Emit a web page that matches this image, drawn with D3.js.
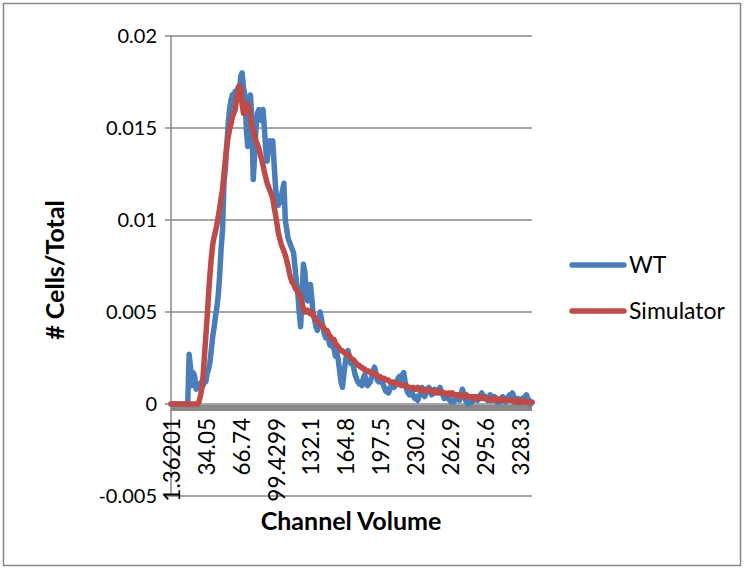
<!DOCTYPE html>
<html>
<head>
<meta charset="utf-8">
<script src="https://cdn.jsdelivr.net/npm/d3@7"></script>
<style>
  body { margin: 0; background: #fff; }
  svg text { font-family: Lato, "Open Sans", sans-serif; fill: #000; }
  .tickLabel { font-size: 20px; }
  .catLabel { font-size: 22.5px; }
  .axisTitle { font-size: 25px; font-weight: bold; }
  .legendLabel { font-size: 23px; }
</style>
</head>
<body>
<div id="chart"></div>
<script>
// category labels shown on the x axis (every 25th category)
var tickLabels = ["1.36201", "34.05", "66.74", "99.4299", "132.1", "164.8", "197.5", "230.2", "262.9", "295.6", "328.3"];
var labelEvery = 25;
var yTicks = [-0.005, 0, 0.005, 0.01, 0.015, 0.02];
var yTickText = ["-0.005", "0", "0.005", "0.01", "0.015", "0.02"];

var seriesNames = ["WT", "Simulator"];
var seriesColors = ["#4A7EBB", "#BE4B48"];

var wt = [
  0, 0, 0, 0, 0, 0, 0, 0, 0, 0, 0, 0, 0,
  0.0027, 0.0020, 0.0010, 0.0017, 0.0015, 0.0008, 0.0011, 0.0009, 0.0010, 0.0012, 0.0010, 0.0013,
  0.0012, 0.0017, 0.0019, 0.0023, 0.0030, 0.0037, 0.0042, 0.0048, 0.0053, 0.0060, 0.0071, 0.0085,
  0.0095, 0.0120, 0.0128, 0.0140, 0.0152, 0.0160, 0.0165, 0.0168, 0.0162, 0.0170, 0.0165, 0.0172,
  0.0168, 0.0178, 0.0180, 0.0172, 0.0168, 0.0150, 0.0140, 0.0158, 0.0168, 0.0155, 0.0122, 0.0135,
  0.0150, 0.0158, 0.0160, 0.0157, 0.0154, 0.0160, 0.0150, 0.0138, 0.0132, 0.0140, 0.0143, 0.0141,
  0.0143, 0.0130, 0.0118, 0.0110, 0.0108, 0.0110, 0.0112, 0.0116, 0.0120, 0.0100, 0.0095, 0.0090,
  0.0088, 0.0086, 0.0084, 0.0082, 0.0074, 0.0066, 0.0060, 0.0050, 0.0042, 0.0058, 0.0076, 0.0072,
  0.0062, 0.0056, 0.0060, 0.0065, 0.0058, 0.0048, 0.0046, 0.0042, 0.0040, 0.0046, 0.0050, 0.0046,
  0.0042, 0.0038, 0.0036, 0.0038, 0.0035, 0.0032, 0.0034, 0.0031, 0.0030, 0.0026, 0.0028, 0.0024,
  0.0018, 0.0012, 0.0009, 0.0016, 0.0022, 0.0028, 0.0029, 0.0026, 0.0022, 0.0024, 0.0020, 0.0016,
  0.0014, 0.0012, 0.0011, 0.0012, 0.0010, 0.0014, 0.0016, 0.0012, 0.0010, 0.0011, 0.0012, 0.0015,
  0.0018, 0.0020, 0.0017, 0.0013, 0.0012, 0.0014, 0.0013, 0.0011, 0.0009, 0.0007, 0.0008, 0.0006,
  0.0008, 0.0010, 0.0011, 0.0009, 0.0010, 0.0012, 0.0014, 0.0015, 0.0013, 0.0016, 0.0017, 0.0012,
  0.0008, 0.0006, 0.0005, 0.0008, 0.0006, 0.0004, 0.0003, 0.0004, 0.0002, 0.0004, 0.0006, 0.0009,
  0.0007, 0.0004, 0.0006, 0.0008, 0.0009, 0.0007, 0.0005, 0.0006, 0.0008, 0.0007, 0.0006, 0.0008,
  0.0009, 0.0007, 0.0005, 0.0003, 0.0004, 0.0005, 0.0003, 0.0002, 0.0001, 0.0002, 0.0001, 0.0003,
  0.0004, 0.0003, 0.0002, 0.0005, 0.0008, 0.0006, 0.0003, 0.0001, 0.0000, 0.0002, 0.0003, 0.0001,
  0.0002, 0.0004, 0.0003, 0.0002, 0.0004, 0.0005, 0.0006, 0.0004, 0.0003, 0.0004, 0.0002, 0.0003,
  0.0005, 0.0003, 0.0002, 0.0004, 0.0003, 0.0001, 0.0002, 0.0001, 0.0003, 0.0004, 0.0003, 0.0001,
  0.0002, 0.0004, 0.0005, 0.0004, 0.0006, 0.0004, 0.0002, 0.0001, 0.0003, 0.0001, 0.0002, 0.0003,
  0.0002, 0.0004, 0.0005, 0.0003, 0.0002, 0.0000, 0.0001
];

var simulator = [
  0, 0, 0, 0, 0, 0, 0, 0, 0, 0, 0, 0, 0, 0, 0, 0, 0, 0, 0, 0,
  0.0001, 0.0004, 0.0008, 0.0015, 0.0026, 0.0037, 0.0048, 0.0060, 0.0071, 0.0080, 0.0087, 0.0091,
  0.0094, 0.0098, 0.0102, 0.0107, 0.0112, 0.0117, 0.0125, 0.0133, 0.0140, 0.0145, 0.0149, 0.0152,
  0.0156, 0.0158, 0.0160, 0.0165, 0.0169, 0.0173, 0.0172, 0.0163, 0.0158, 0.0160, 0.0163, 0.0163,
  0.0160, 0.0156, 0.0151, 0.0148, 0.0145, 0.0143, 0.0141, 0.0139, 0.0136, 0.0133, 0.0130, 0.0126,
  0.0123, 0.0120, 0.0118, 0.0116, 0.0114, 0.0112, 0.0107, 0.0103, 0.0098, 0.0093, 0.0090, 0.0087,
  0.0085, 0.0083, 0.0081, 0.0078, 0.0075, 0.0071, 0.0068, 0.0066, 0.0065, 0.0063, 0.0062, 0.0061,
  0.0060, 0.0058, 0.0055, 0.0052, 0.0050, 0.0050, 0.0051, 0.0050, 0.0049, 0.0050, 0.0049, 0.0047,
  0.0046, 0.0045, 0.0044, 0.0043, 0.0043, 0.0042, 0.0041, 0.0040, 0.0040, 0.0038, 0.0037, 0.0036,
  0.0035, 0.0035, 0.0033, 0.0032, 0.0031, 0.0030, 0.0029, 0.0029, 0.0028, 0.0028, 0.0027, 0.0027,
  0.0026, 0.0025, 0.0024, 0.0024, 0.0023, 0.0022, 0.0021, 0.0021, 0.0020, 0.0020, 0.0019, 0.0019,
  0.0018, 0.0018, 0.0018, 0.0017, 0.0017, 0.0017, 0.0016, 0.0016, 0.0015, 0.0015, 0.0015, 0.0014,
  0.0014, 0.0014, 0.0013, 0.0013, 0.0013, 0.0012, 0.0012, 0.0012, 0.0012, 0.0011, 0.0011, 0.0011,
  0.0011, 0.0010, 0.0010, 0.0010, 0.0010, 0.0010, 0.0009, 0.0009, 0.0009, 0.0009, 0.0009,
  0.0008, 0.0008, 0.0009, 0.0008, 0.0008, 0.0007, 0.0008, 0.0008, 0.0007, 0.0007,
  0.0007, 0.0008, 0.0007, 0.0007, 0.0006, 0.0007, 0.0007, 0.0006, 0.0006, 0.0007,
  0.0006, 0.0006, 0.0006, 0.0005, 0.0006, 0.0006, 0.0005, 0.0006, 0.0005, 0.0005,
  0.0005, 0.0005, 0.0004, 0.0005, 0.0005, 0.0004, 0.0004, 0.0005, 0.0004, 0.0004,
  0.0004, 0.0004, 0.0003, 0.0004, 0.0004, 0.0003, 0.0004, 0.0003, 0.0003, 0.0004,
  0.0003, 0.0003, 0.0003, 0.0003, 0.0002, 0.0003, 0.0003, 0.0003, 0.0002, 0.0003,
  0.0002, 0.0002, 0.0003, 0.0002, 0.0002, 0.0002, 0.0002, 0.0002, 0.0002, 0.0002,
  0.0002, 0.0001, 0.0002, 0.0002, 0.0001, 0.0002, 0.0001, 0.0001, 0.0002, 0.0001,
  0.0001, 0.0001, 0.0001, 0.0001, 0.0001
];

var width = 744, height = 569;
var plotLeft = 171, plotRight = 532, plotTop = 36, plotBottom = 496;
var nCats = wt.length;

var svg = d3.select("#chart").append("svg")
  .attr("width", width)
  .attr("height", height);

// outer chart border
svg.append("rect")
  .attr("x", 3.5).attr("y", 3.5)
  .attr("width", 737).attr("height", 562)
  .attr("fill", "#fff")
  .attr("stroke", "#888")
  .attr("stroke-width", 1.5);

var x = d3.scaleLinear()
  .domain([0, nCats - 1])
  .range([plotLeft, plotRight]);

var y = d3.scaleLinear()
  .domain([-0.005, 0.02])
  .range([plotBottom, plotTop]);

// gridlines
svg.append("g")
  .selectAll("line")
  .data(yTicks)
  .enter()
  .append("line")
    .attr("x1", plotLeft - 6)
    .attr("x2", plotRight)
    .attr("y1", d => y(d))
    .attr("y2", d => y(d))
    .attr("stroke", "#888")
    .attr("stroke-width", 1.5);

// y axis line
svg.append("line")
  .attr("x1", plotLeft).attr("x2", plotLeft)
  .attr("y1", plotTop).attr("y2", plotBottom)
  .attr("stroke", "#888")
  .attr("stroke-width", 1.5);

svg.append("g")
  .selectAll("text")
  .data(yTicks)
  .enter()
  .append("text")
    .attr("class", "tickLabel")
    .attr("x", plotLeft - 14)
    .attr("y", d => y(d))
    .attr("dy", "0.36em")
    .attr("text-anchor", "end")
    .text((d, i) => yTickText[i]);

// category axis drawn as a heavy band at zero
svg.append("line")
  .attr("x1", plotLeft).attr("x2", plotRight)
  .attr("y1", y(0) + 4).attr("y2", y(0) + 4)
  .attr("stroke", "#888")
  .attr("stroke-width", 6);

svg.append("g")
  .selectAll("text")
  .data(tickLabels)
  .enter()
  .append("text")
    .attr("class", "catLabel")
    .attr("transform", (d, i) => `translate(${x(i * labelEvery) + 1}, ${y(0) + 14}) rotate(-90)`)
    .attr("dy", "0.36em")
    .attr("text-anchor", "end")
    .text(d => d);

// series lines
var line = d3.line()
  .x((d, i) => x(i))
  .y(d => y(d));

[wt, simulator].forEach((values, k) => {
  svg.append("path")
    .datum(values)
    .attr("d", line)
    .attr("fill", "none")
    .attr("stroke", seriesColors[k])
    .attr("stroke-width", 5.5)
    .attr("stroke-linejoin", "round")
    .attr("stroke-linecap", "round");
});

// axis titles
svg.append("text")
  .attr("class", "axisTitle")
  .attr("transform", `translate(64, 270) rotate(-90)`)
  .attr("text-anchor", "middle")
  .text("# Cells/Total");

svg.append("text")
  .attr("class", "axisTitle")
  .attr("x", 351)
  .attr("y", 530)
  .attr("text-anchor", "middle")
  .text("Channel Volume");

// legend
var legend = svg.append("g")
  .selectAll("g")
  .data(seriesNames)
  .enter()
  .append("g")
    .attr("transform", (d, i) => `translate(572, ${265 + i * 46})`);

legend.append("line")
  .attr("x1", 0).attr("x2", 52)
  .attr("stroke", (d, i) => seriesColors[i])
  .attr("stroke-width", 5.5)
  .attr("stroke-linecap", "round");

legend.append("text")
  .attr("class", "legendLabel")
  .attr("x", 57)
  .attr("dy", "0.36em")
  .text(d => d);
</script>
</body>
</html>
